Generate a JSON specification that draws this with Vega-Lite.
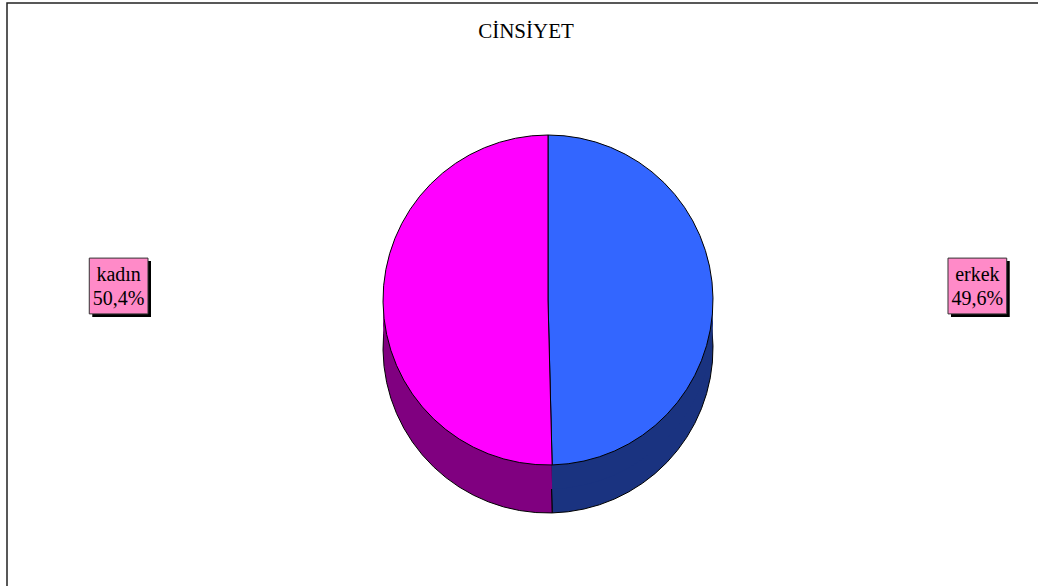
{
  "$schema": "https://vega.github.io/schema/vega-lite/v6.json",
  "autosize": "none",
  "width": 1082,
  "height": 594,
  "padding": {"left": 7, "top": 3, "right": 0, "bottom": 0},
  "background": "white",
  "config": {"view": {"stroke": "#222222", "strokeWidth": 1.5}},
  "title": {
    "text": "CİNSİYET",
    "font": "Liberation Serif",
    "fontSize": 21,
    "fontWeight": "normal",
    "color": "black",
    "anchor": "middle",
    "baseline": "alphabetic",
    "offset": -56,
    "dx": -22
  },
  "data": {
    "values": [
      {"cat": "erkek", "pct": 49.6},
      {"cat": "kadın", "pct": 50.4}
    ]
  },
  "transform": [
    {"calculate": "datum.cat + '\\n' + replace(format(datum.pct, '.1f'), '.', ',') + '%'", "as": "label"}
  ],
  "layer": [
    {
      "mark": {"type": "arc", "outerRadius": 165, "yOffset": 48, "stroke": "black", "strokeWidth": 1},
      "encoding": {
        "theta": {"field": "pct", "type": "quantitative", "stack": true},
        "order": {"field": "cat", "type": "nominal"},
        "fill": {"field": "cat", "type": "nominal", "scale": {"domain": ["erkek", "kadın"], "range": ["#1A3380", "#800080"]}, "legend": null}
      }
    },
    {
      "mark": {"type": "arc", "outerRadius": 165, "yOffset": 24, "strokeWidth": 0},
      "encoding": {
        "theta": {"field": "pct", "type": "quantitative", "stack": true},
        "order": {"field": "cat", "type": "nominal"},
        "fill": {"field": "cat", "type": "nominal", "scale": {"domain": ["erkek", "kadın"], "range": ["#1A3380", "#800080"]}, "legend": null}
      }
    },
    {
      "mark": {"type": "arc", "outerRadius": 165, "stroke": "black", "strokeWidth": 1},
      "encoding": {
        "theta": {"field": "pct", "type": "quantitative", "stack": true},
        "order": {"field": "cat", "type": "nominal"},
        "color": {"field": "cat", "type": "nominal", "scale": {"domain": ["erkek", "kadın"], "range": ["#3366FF", "#FF00FF"]}, "legend": null}
      }
    },
    {
      "mark": {"type": "point", "shape": "M-1,-0.95L1,-0.95L1,0.95L-1,0.95Z", "size": 3450, "filled": true, "color": "black", "opacity": 1, "xOffset": 3, "yOffset": -11},
      "encoding": {
        "x": {"field": "cat", "type": "nominal", "scale": {"type": "point", "domain": ["kadın", "erkek"], "padding": 0.13}, "axis": null}
      }
    },
    {
      "mark": {"type": "point", "shape": "M-1,-0.95L1,-0.95L1,0.95L-1,0.95Z", "size": 3450, "filled": true, "fill": "#FF8AC8", "stroke": "#333333", "strokeWidth": 1, "opacity": 1, "yOffset": -14},
      "encoding": {
        "x": {"field": "cat", "type": "nominal", "scale": {"type": "point", "domain": ["kadın", "erkek"], "padding": 0.13}, "axis": null}
      }
    },
    {
      "mark": {"type": "text", "font": "Liberation Serif", "fontSize": 20, "lineBreak": "\n", "lineHeight": 24, "align": "center", "baseline": "middle", "color": "black", "yOffset": -25},
      "encoding": {
        "x": {"field": "cat", "type": "nominal", "scale": {"type": "point", "domain": ["kadın", "erkek"], "padding": 0.13}, "axis": null},
        "text": {"field": "label", "type": "nominal"}
      }
    }
  ]
}
